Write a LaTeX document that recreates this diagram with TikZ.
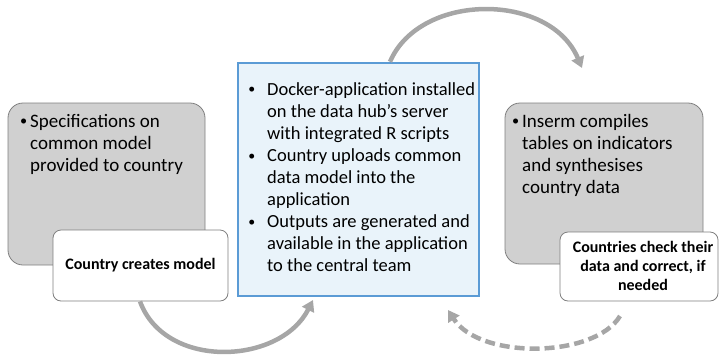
\documentclass[tikz,border=0pt]{standalone}
\usepackage{fontspec}
\setmainfont{Carlito}
\usetikzlibrary{arrows.meta}
\definecolor{panelgray}{HTML}{D0D0D0}
\definecolor{edgegray}{HTML}{7F7F7F}
\definecolor{flowgray}{HTML}{A6A6A6}
\definecolor{hubfill}{HTML}{E9F3FA}
\definecolor{hubedge}{HTML}{5B9BD5}
\newcommand{\linesat}[1]{\begin{tabular}[t]{@{}l@{}}#1\end{tabular}}
\newcommand{\dotmark}[1]{\llap{\raisebox{1.2pt}{\scalebox{0.75}{\textbullet}}\hspace{#1}}}
\tikzset{
  panel/.style={draw=edgegray, line width=0.8pt, fill=panelgray, rounded corners=15pt},
  tag/.style={draw=edgegray, line width=0.8pt, fill=white, rounded corners=8pt},
  hub/.style={draw=hubedge, line width=2.5pt, fill=hubfill},
  flow/.style={draw=flowgray, line width=4.5pt, -{Triangle[length=11pt,width=13pt]}},
  flowdash/.style={flow, dash pattern=on 10pt off 5pt},
  body/.style={font=\fontsize{19}{22.2}\selectfont, inner sep=0pt, anchor=base west},
  hubtext/.style={font=\fontsize{18.5}{22.1}\selectfont, inner sep=0pt, anchor=base west},
  tagtext/.style={font=\bfseries\fontsize{16}{19}\selectfont, align=center, inner sep=0pt}
}
\begin{document}
\begin{tikzpicture}[x=1pt, y=-1pt]
\useasboundingbox (0,0) rectangle (719,354);

% left step
\path[panel] (8,103) rectangle (205,265);
\node[body] (specs) at (30,127) {\linesat{\dotmark{3pt}Specifications on\\common model\\provided to country}};
\node[tag, minimum width=175pt, minimum height=71pt] (create) at (140.5,265.5) {};
\node[tagtext] at (create.center) {Country creates model};

% central hub
\node[hub, minimum width=241pt, minimum height=233pt] (hub) at (358.5,179.5) {};
\node[hubtext] (hubitems) at (267,95) {\linesat{%
\dotmark{12pt}Docker-application installed\\
on the data hub’s server\\
with integrated R scripts\\
\dotmark{12pt}Country uploads common\\
data model into the\\
application\\
\dotmark{12pt}Outputs are generated and\\
available in the application\\
to the central team}};

% right step
\path[panel] (505,103) rectangle (703,264);
\node[body] (inserm) at (522,127) {\linesat{\dotmark{3pt}Inserm compiles\\tables on indicators\\and synthesises\\country data}};
\node[tag, minimum width=158pt, minimum height=69pt] (check) at (639,266.5) {};
\node[tagtext] at (643,266) {Countries check their\\data and correct, if\\needed};

% connectors
\coordinate (topend) at (582,68);
\coordinate (hubin) at (313,300);
\coordinate (backend) at (448,310);
\coordinate (checkout) at (620,316);

\draw[flow] ([xshift=31.5pt]hub.north) .. controls (420,-8) and (550,-8) .. (topend);
\draw[flow] ([xshift=-0.5pt]create.south) .. controls (165,370) and (280,365) .. (hubin);
\draw[flowdash] (checkout) .. controls (595,358) and (480,360) .. (backend);
\end{tikzpicture}
\end{document}
